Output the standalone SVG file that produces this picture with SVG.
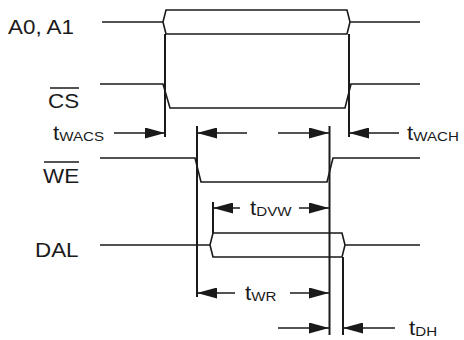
<svg xmlns="http://www.w3.org/2000/svg" width="464" height="340" viewBox="0 0 464 340">
<style>
.sig{fill:none;stroke:#1a1a1a;stroke-width:1.6;stroke-linejoin:miter}
.ref{fill:none;stroke:#1a1a1a;stroke-width:2}
.dim{fill:none;stroke:#1a1a1a;stroke-width:1.5}
.lbl{font-family:"Liberation Sans",Arial,sans-serif;font-size:20px;fill:#1a1a1a}
.sub{font-size:13.5px}
</style>
<defs>
<marker id="ah" markerUnits="userSpaceOnUse" markerWidth="20" markerHeight="11" refX="20" refY="5.5" orient="auto">
<path d="M0,0 L20,5.5 L0,11 Z" fill="#1a1a1a"/>
</marker>
</defs>
<rect width="464" height="340" fill="#fff"/>

<g id="sig-a0a1">
<text class="lbl" transform="translate(8,34) scale(1.12,1)">A0, A1</text>
<path class="sig" d="M102,22 H163 L166,10 H347 L350,22 L347,34 H166 L163,22 M350,22 H420"/>
</g>

<g id="sig-cs">
<text class="lbl" transform="translate(48,108) scale(1.12,1)">CS</text>
<line class="dim" x1="50" y1="88" x2="79" y2="88"/>
<path class="sig" d="M100,84 H163 L170,108 H345 L351,84 H420"/>
</g>

<g id="sig-we">
<text class="lbl" transform="translate(43,182.5) scale(1.12,1)">WE</text>
<line class="dim" x1="44" y1="162" x2="79" y2="162"/>
<path class="sig" d="M100,158 H195 L201,182 H327 L333,158 H420"/>
</g>

<g id="sig-dal">
<text class="lbl" transform="translate(35,257) scale(1.12,1)">DAL</text>
<path class="sig" d="M100,245 H210 L213,233 H342 L345,245 L342,257 H213 L210,245 M345,245 H420"/>
</g>

<g id="connectors">
<line class="ref" x1="165" y1="34" x2="165" y2="137"/>
<line class="ref" x1="349" y1="34" x2="349" y2="137"/>
<line class="ref" x1="197" y1="126" x2="197" y2="297"/>
<line class="ref" x1="329.5" y1="126" x2="329.5" y2="335"/>
<line class="ref" x1="213" y1="202" x2="213" y2="233"/>
<line class="ref" x1="343" y1="257" x2="343" y2="335"/>

<line class="dim" x1="114" y1="133" x2="165" y2="133" marker-end="url(#ah)"/>
<line class="dim" x1="247" y1="133" x2="197" y2="133" marker-end="url(#ah)"/>
<line class="dim" x1="278" y1="133" x2="329" y2="133" marker-end="url(#ah)"/>
<line class="dim" x1="399" y1="133" x2="349" y2="133" marker-end="url(#ah)"/>

<line class="dim" x1="240" y1="208" x2="213" y2="208" marker-end="url(#ah)"/>
<line class="dim" x1="299" y1="208" x2="329" y2="208" marker-end="url(#ah)"/>

<line class="dim" x1="235" y1="293" x2="197" y2="293" marker-end="url(#ah)"/>
<line class="dim" x1="290" y1="293" x2="329" y2="293" marker-end="url(#ah)"/>

<line class="dim" x1="278" y1="328" x2="329" y2="328" marker-end="url(#ah)"/>
<line class="dim" x1="395" y1="328" x2="343" y2="328" marker-end="url(#ah)"/>
</g>

<g id="timing-labels">
<text class="lbl" transform="translate(53,139.5) scale(1.12,1)">t<tspan class="sub" dy="1">WACS</tspan></text>
<text class="lbl" transform="translate(407,139.5) scale(1.12,1)">t<tspan class="sub" dy="1">WACH</tspan></text>
<text class="lbl" transform="translate(250,214.5) scale(1.12,1)">t<tspan class="sub" dy="1">DVW</tspan></text>
<text class="lbl" transform="translate(245,299.5) scale(1.12,1)">t<tspan class="sub" dy="1">WR</tspan></text>
<text class="lbl" transform="translate(409,334.5) scale(1.12,1)">t<tspan class="sub" dy="1">DH</tspan></text>
</g>
</svg>
